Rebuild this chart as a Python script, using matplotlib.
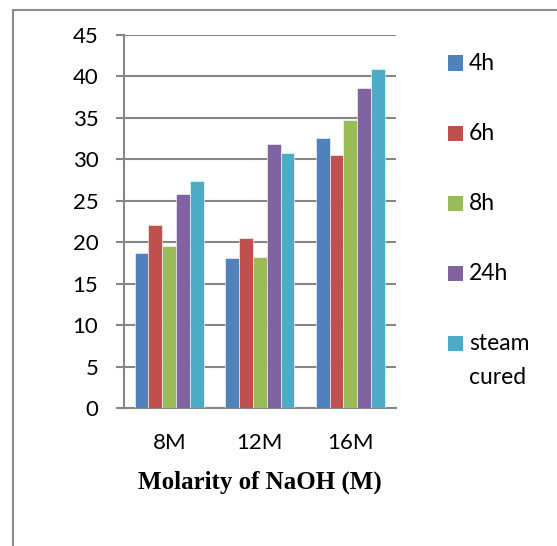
import matplotlib
matplotlib.use("Agg")
import matplotlib.pyplot as plt
import numpy as np
from matplotlib.lines import Line2D
from matplotlib.patches import Rectangle

categories = ["8M", "12M", "16M"]
series_labels = ["4h", "6h", "8h", "24h", "steam\ncured"]
values_4h = [18.7, 18.1, 32.6]
values_6h = [22.1, 20.5, 30.5]
values_8h = [19.6, 18.2, 34.7]
values_24h = [25.8, 31.9, 38.6]
values_steam = [27.4, 30.8, 40.9]
yticks = [0, 5, 10, 15, 20, 25, 30, 35, 40, 45]
xlabel = "Molarity of NaOH (M)"

series = [values_4h, values_6h, values_8h, values_24h, values_steam]
colors = ["#4F81BD", "#C0504D", "#9BBB59", "#8064A2", "#4BACC6"]

W, H = 557, 546
fig = plt.figure(figsize=(W / 100, H / 100), dpi=100)
ax = fig.add_axes([124 / W, 1 - 408.3 / H, (395.7 - 124) / W, (408.3 - 35) / H])

grid_c = "#868686"
x = np.arange(len(categories))
bw = 0.153
for i, vals in enumerate(series):
    ax.bar(x + (i - 2) * bw, vals, width=bw, color=colors[i],
           edgecolor="#FFFFFF", linewidth=0.4, zorder=3)

ax.set_xlim(-0.5, 2.5)
ax.set_ylim(0, 45)
ax.set_yticks(yticks)
ax.set_xticks(x)
ax.set_xticklabels(categories)
ax.yaxis.grid(True, color=grid_c, linewidth=1.5, zorder=0)
ax.set_axisbelow(True)
for s in ["top", "right"]:
    ax.spines[s].set_visible(False)
for s in ["left", "bottom"]:
    ax.spines[s].set_color(grid_c)
    ax.spines[s].set_linewidth(1.5)
ax.tick_params(axis="y", length=5.5, width=1.5, color=grid_c, pad=13,
               labelsize=16, labelfontfamily="Lato")
ax.tick_params(axis="x", length=0, pad=18, labelsize=16, labelfontfamily="Lato")
ax.set_xlabel(xlabel, fontfamily="Liberation Serif", fontweight="bold",
              fontsize=18, labelpad=12.5)

# legend drawn manually
for i, lab in enumerate(series_labels):
    yc = 63 + 70 * i
    fig.add_artist(Rectangle((448 / W, 1 - (yc + 7.5) / H), 15 / W, 15 / H,
                             transform=fig.transFigure, facecolor=colors[i],
                             edgecolor="none"))
    for j, line in enumerate(lab.split("\n")):
        fig.text(469 / W, 1 - (yc + 34 * j) / H, line, fontfamily="Lato",
                 fontsize=16.5, va="center", ha="left")

# outer frame lines
fig.add_artist(Line2D([13 / W, 1], [1 - 10 / H, 1 - 10 / H],
                      transform=fig.transFigure, color="#8C8C8C", linewidth=1.5))
fig.add_artist(Line2D([13 / W, 13 / W], [0, 1 - 10 / H],
                      transform=fig.transFigure, color="#8C8C8C", linewidth=1.5))

fig.savefig("out.png", dpi=100)
